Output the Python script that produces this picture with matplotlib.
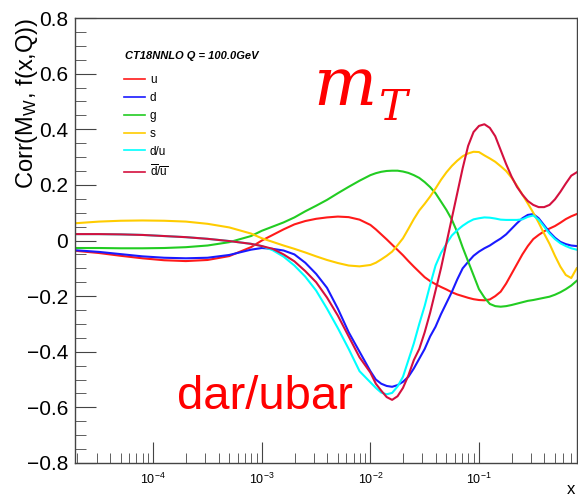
import numpy as np
import matplotlib
matplotlib.use("Agg")
import matplotlib.pyplot as plt
from matplotlib.ticker import LogLocator, NullFormatter, MultipleLocator, FuncFormatter

plt.rcParams['font.family'] = ['Liberation Sans', 'DejaVu Sans']
plt.rcParams['mathtext.fontset'] = 'stix'

# ---- data ----
log10_x = [-4.72, -4.5, -4.3, -4.1, -3.9, -3.7, -3.5, -3.3, -3.1,
           -3.0, -2.9, -2.8, -2.7, -2.6, -2.5, -2.4, -2.3, -2.2, -2.1, -2.0,
           -1.95, -1.9, -1.85, -1.8, -1.75, -1.7, -1.65, -1.6, -1.55, -1.5,
           -1.45, -1.4, -1.35, -1.3, -1.25, -1.2, -1.15, -1.1, -1.05, -1.0,
           -0.95, -0.9, -0.85, -0.8, -0.75, -0.7, -0.65, -0.6, -0.55, -0.5,
           -0.45, -0.4, -0.35, -0.3, -0.25, -0.2, -0.15, -0.1]

corr_u = [-0.037, -0.045, -0.055, -0.064, -0.071, -0.074, -0.07, -0.056, -0.024,
          0.0, 0.02, 0.04, 0.058, 0.07, 0.078, 0.083, 0.086, 0.084, 0.075, 0.056,
          0.04, 0.022, 0.004, -0.015, -0.034, -0.053, -0.074, -0.094, -0.113, -0.132,
          -0.146, -0.157, -0.167, -0.176, -0.186, -0.194, -0.2, -0.206, -0.211, -0.214,
          -0.215, -0.212, -0.2, -0.184, -0.155, -0.12, -0.085, -0.05, -0.02, 0.005,
          0.02, 0.033, 0.043, 0.052, 0.064, 0.077, 0.087, 0.095]

corr_d = [-0.035, -0.041, -0.049, -0.057, -0.062, -0.064, -0.062, -0.052, -0.033,
          -0.027, -0.03, -0.036, -0.05, -0.08, -0.12, -0.17, -0.245, -0.33, -0.40, -0.47,
          -0.50, -0.515, -0.523, -0.526, -0.52, -0.508, -0.49, -0.46, -0.425, -0.39,
          -0.345, -0.31, -0.265, -0.225, -0.185, -0.14, -0.10, -0.077, -0.055, -0.04,
          -0.028, -0.018, -0.005, 0.007, 0.022, 0.042, 0.062, 0.08, 0.092, 0.095,
          0.08, 0.055, 0.03, 0.01, -0.005, -0.013, -0.018, -0.02]

corr_g = [-0.027, -0.027, -0.028, -0.028, -0.027, -0.024, -0.018, -0.006, 0.016,
          0.035, 0.05, 0.065, 0.083, 0.105, 0.125, 0.146, 0.17, 0.193, 0.215, 0.235,
          0.242, 0.247, 0.25, 0.251, 0.251, 0.248, 0.243, 0.235, 0.225, 0.21,
          0.192, 0.17, 0.14, 0.11, 0.075, 0.03, -0.025, -0.075, -0.125, -0.175,
          -0.205, -0.228, -0.236, -0.238, -0.236, -0.232, -0.227, -0.222, -0.217, -0.214,
          -0.21, -0.206, -0.202, -0.195, -0.186, -0.175, -0.162, -0.145]

corr_s = [0.062, 0.068, 0.071, 0.072, 0.071, 0.068, 0.06, 0.047, 0.025,
          0.008, -0.005, -0.018, -0.03, -0.043, -0.057, -0.07, -0.081, -0.09, -0.093, -0.088,
          -0.08, -0.068, -0.055, -0.04, -0.017, 0.008, 0.042, 0.077, 0.108, 0.132,
          0.158, 0.187, 0.218, 0.245, 0.268, 0.287, 0.303, 0.313, 0.319, 0.318,
          0.306, 0.295, 0.283, 0.267, 0.25, 0.226, 0.197, 0.165, 0.133, 0.1,
          0.064, 0.025, -0.012, -0.055, -0.094, -0.124, -0.135, -0.1]

corr_du = [0.023, 0.023, 0.022, 0.02, 0.016, 0.012, 0.006, -0.002, -0.012,
           -0.02, -0.035, -0.058, -0.09, -0.13, -0.18, -0.245, -0.315, -0.39, -0.47, -0.51,
           -0.53, -0.547, -0.553, -0.548, -0.525, -0.49, -0.43, -0.37, -0.30, -0.235,
           -0.16, -0.09, -0.045, -0.012, 0.018, 0.037, 0.053, 0.066, 0.076, 0.08,
           0.083, 0.082, 0.079, 0.075, 0.074, 0.074, 0.074, 0.076, 0.085, 0.09,
           0.075, 0.05, 0.025, 0.005, -0.01, -0.02, -0.028, -0.033]

corr_dbub = [0.023, 0.023, 0.022, 0.02, 0.016, 0.012, 0.006, -0.002, -0.012,
             -0.02, -0.03, -0.05, -0.075, -0.11, -0.15, -0.205, -0.27, -0.345, -0.42, -0.475,
             -0.515, -0.54, -0.563, -0.573, -0.56, -0.53, -0.485, -0.43, -0.39, -0.33,
             -0.26, -0.18, -0.10, -0.01, 0.08, 0.17, 0.26, 0.34, 0.39, 0.412,
             0.418, 0.405, 0.375, 0.325, 0.275, 0.23, 0.193, 0.165, 0.142, 0.128,
             0.12, 0.12, 0.128, 0.148, 0.175, 0.205, 0.233, 0.245]

labels = ['u', 'd', 'g', 's', 'd/u', r'$\mathregular{\overline{d}/\overline{u}}$']
colors = ['#ff1a1a', '#1a1aff', '#22cc22', '#ffcc00', '#00ffff', '#d4103e']
series = [corr_u, corr_d, corr_g, corr_s, corr_du, corr_dbub]
legend_title = 'CT18NNLO Q = 100.0GeV'

x = 10.0 ** np.array(log10_x)

W, H = 578, 500
fig = plt.figure(figsize=(W / 100, H / 100), dpi=100)
ax = fig.add_axes([75 / W, 37 / H, 502 / W, 445 / H])

for vals, c, lab in zip(series, colors, labels):
    ax.plot(x, vals, color=c, lw=1.5, label=lab)

ax.set_xscale('log')
ax.set_xlim(1.9e-5, 0.8)
ax.set_ylim(-0.8, 0.8)

ax.yaxis.set_major_locator(MultipleLocator(0.2))
ax.yaxis.set_minor_locator(MultipleLocator(0.05))
ax.xaxis.set_major_locator(LogLocator(base=10, numticks=20))
ax.xaxis.set_minor_locator(LogLocator(base=10, subs=np.arange(2, 10), numticks=20))
ax.xaxis.set_minor_formatter(NullFormatter())
ax.yaxis.set_major_formatter(FuncFormatter(
    lambda v, p: ('%.1f' % v).replace('-', '\u2212') if abs(v) > 1e-9 else '0'))

axc = '#444444'
for sp in ax.spines.values():
    sp.set_color(axc)
    sp.set_linewidth(1.0)
ax.tick_params(axis='both', which='both', direction='in', colors=axc, top=False, right=False)
ax.tick_params(axis='y', which='major', length=15, labelsize=15, pad=5, labelcolor='black')
ax.tick_params(axis='y', which='minor', length=8)
ax.tick_params(axis='x', which='major', length=15, labelsize=9, pad=6, labelcolor='black')
ax.tick_params(axis='x', which='minor', length=7)

ax.set_ylabel(r'Corr(M$_{\mathregular{W}}$, f(x,Q))', fontsize=17, loc='top')
ax.yaxis.set_label_coords(-0.07, 1.0)

fig.text(0.995, 0.005, 'x', fontsize=12, ha='right', va='bottom')

fig.text(125 / W, 1 - 56 / H, legend_title, fontsize=8, fontweight='bold',
         fontstyle='italic', ha='left', va='center')
leg = ax.legend(loc='upper left', bbox_to_anchor=(124 / W, 1 - 74 / H),
                bbox_transform=fig.transFigure, frameon=False, fontsize=8.5,
                borderpad=0, borderaxespad=0,
                handlelength=1.8, handletextpad=0.4, labelspacing=0.5)
for line in leg.get_lines():
    line.set_linewidth(1.2)

fig.text(313 / W, 1 - 105 / H, 'm', color='red', fontsize=48, family='DejaVu Serif',
         style='italic', ha='left', va='baseline')
fig.text(379 / W, 1 - 120 / H, 'T', color='red', fontsize=31, family='DejaVu Serif',
         style='italic', ha='left', va='baseline')
ax.text(0.203, 0.148, 'dar/ubar', transform=ax.transAxes, color='red', fontsize=34,
        ha='left', va='center')

fig.savefig('out.png', dpi=100)
